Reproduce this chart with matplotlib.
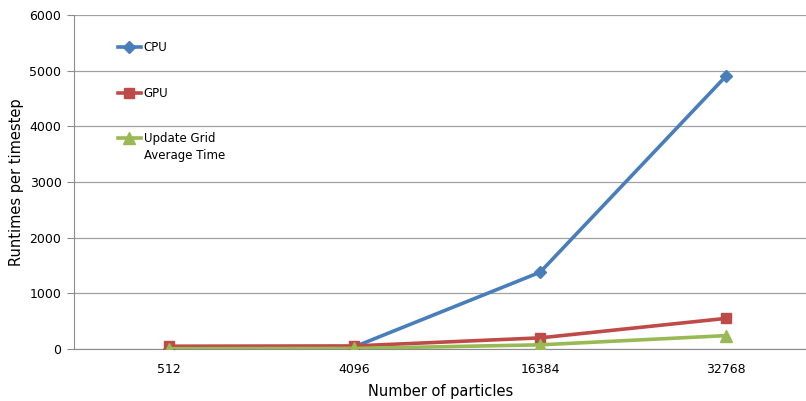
import matplotlib
matplotlib.use('Agg')
import matplotlib.pyplot as plt
import numpy as np

# runtimes per timestep for each particle count
particles = ['512', '4096', '16384', '32768']
cpu = [8, 40, 1380, 4900]
gpu = [50, 55, 200, 550]
grid_avg = [5, 10, 75, 240]

W, H = 806, 401
fig = plt.figure(figsize=(W/100, H/100), dpi=100)
fig.patch.set_facecolor('white')
ax = fig.add_axes([74/W, 1 - 349/H, (W - 74)/W + 0.002, (349 - 15)/H])
ax.set_facecolor('white')
plt.rcParams['font.family'] = ['DejaVu Sans']

x = np.arange(len(particles))
ax.plot(x, cpu, color='#4a7ebb', lw=2.6, marker='D', ms=6, mec='#4a7ebb',
        label='CPU', zorder=3)
ax.plot(x, gpu, color='#be4b48', lw=2.6, marker='s', ms=7.5, mec='#be4b48',
        label='GPU', zorder=4)
ax.plot(x, grid_avg, color='#98b954', lw=2.6, marker='^', ms=8, mec='#98b954',
        label='Update Grid', zorder=5)

ax.set_xlim(-0.51, 3.44)
ax.set_ylim(0, 6000)
ax.set_yticks(range(0, 6001, 1000))
ax.set_xticks(x)
ax.set_xticklabels(particles)
ax.yaxis.grid(True, color='#a0a0a0', lw=0.9)
ax.set_axisbelow(True)
for side in ('top', 'right'):
    ax.spines[side].set_visible(False)
ax.spines['left'].set_color('#8c8c8c')
ax.spines['bottom'].set_color('#8c8c8c')
ax.tick_params(axis='y', length=5, color='#8c8c8c', labelsize=9, pad=4)
ax.tick_params(axis='x', length=0, labelsize=9, pad=10)

ax.set_xlabel('Number of particles', fontsize=10.5, labelpad=6)
ax.set_ylabel('Runtimes per timestep', fontsize=10.5, labelpad=4)

leg = ax.legend(loc='upper left', bbox_to_anchor=(0.045, 0.953), frameon=False,
                fontsize=8.5, labelspacing=2.75, handlelength=2.0,
                handletextpad=0.2)

# second line of the last legend label, placed under its first line
fig.canvas.draw()
bb = leg.get_texts()[-1].get_window_extent().transformed(ax.transAxes.inverted())
ax.text(bb.x0, bb.y0 - 0.012, 'Average Time', transform=ax.transAxes,
        fontsize=8.5, va='top', ha='left')

fig.savefig('out.png', dpi=100)
